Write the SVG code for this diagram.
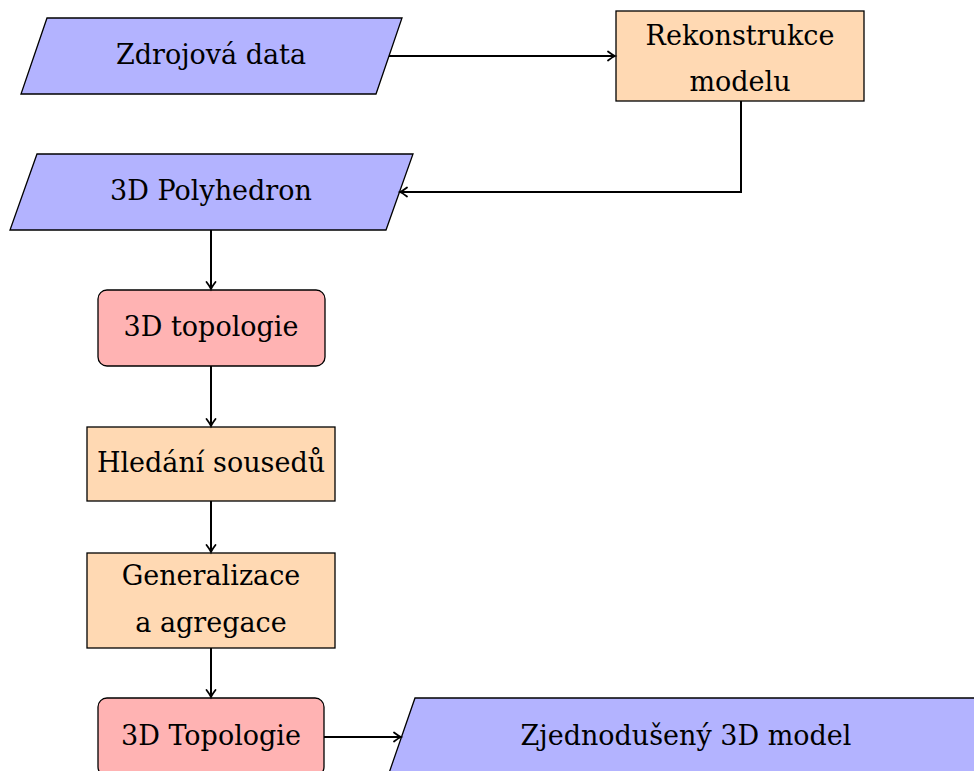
<svg xmlns="http://www.w3.org/2000/svg" width="974" height="771" viewBox="0 0 974 771">
<defs>
<marker id="arr" markerUnits="userSpaceOnUse" markerWidth="14" markerHeight="14" viewBox="-10 -7 12 14" refX="0" refY="0" orient="auto">
<path d="M-7,-4.5 Q-2.5,-1 0,0 Q-2.5,1 -7,4.5" fill="none" stroke="#000" stroke-width="1.8" stroke-linecap="round"/>
</marker>
</defs>
<style>
.io{fill:#b3b3ff;stroke:#000;stroke-width:1.3}
.proc{fill:#ffd9b3;stroke:#000;stroke-width:1.3}
.topo{fill:#ffb3b3;stroke:#000;stroke-width:1.3}
.c{fill:none;stroke:#000;stroke-width:2;marker-end:url(#arr)}
</style>
<rect width="974" height="771" fill="#fff"/>
<g font-family="DejaVu Serif, serif" font-size="27" text-anchor="middle" fill="#000">
<g id="zdrojova">
<polygon class="io" points="47,18 402,18 376,94 21,94"/>
<text x="211" y="64">Zdrojová data</text>
</g>
<g id="rekonstrukce">
<rect class="proc" x="616" y="11" width="248" height="90"/>
<text x="740" y="45">Rekonstrukce</text>
<text x="740" y="91">modelu</text>
</g>
<g id="polyhedron">
<polygon class="io" points="37,154 413,154 386,230 10,230"/>
<text x="211" y="200">3D Polyhedron</text>
</g>
<g id="topologie">
<rect class="topo" x="98" y="290" width="227" height="76" rx="9"/>
<text x="211" y="336">3D topologie</text>
</g>
<g id="hledani">
<rect class="proc" x="87" y="427" width="248" height="74"/>
<text x="211" y="472">Hledání sousedů</text>
</g>
<g id="generalizace">
<rect class="proc" x="87" y="553" width="248" height="95"/>
<text x="211" y="585">Generalizace</text>
<text x="211" y="632">a agregace</text>
</g>
<g id="topologie2">
<rect class="topo" x="98" y="698" width="226" height="78" rx="9"/>
<text x="211" y="745">3D Topologie</text>
</g>
<g id="zjednoduseny">
<polygon class="io" points="415,698 1000,698 973,776 388,776"/>
<text x="686" y="745">Zjednodušený 3D model</text>
</g>
</g>
<g id="connectors">
<path class="c" d="M389,56 H615"/>
<path class="c" d="M741,101 V192 H400"/>
<path class="c" d="M211,230 V289"/>
<path class="c" d="M211,366 V426"/>
<path class="c" d="M211,501 V552"/>
<path class="c" d="M211,648 V697"/>
<path class="c" d="M324,737 H401"/>
</g>
</svg>
